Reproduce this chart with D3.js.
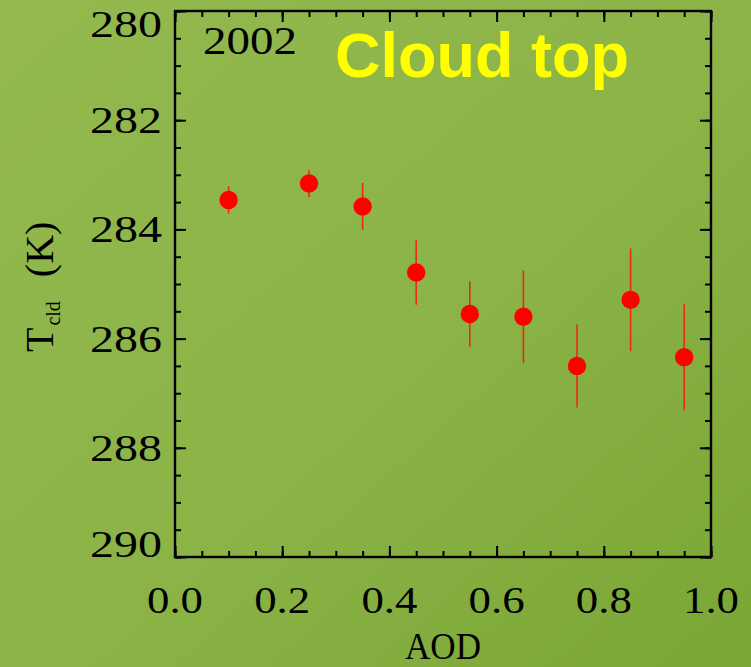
<!DOCTYPE html>
<html>
<head>
<meta charset="utf-8">
<script src="https://cdn.jsdelivr.net/npm/d3@7"></script>
<style>
html,body{margin:0;padding:0;background:#8cb448;}
svg{display:block;}
</style>
</head>
<body>
<svg id="chart" width="751" height="667"></svg>
<script>
// ---- data ----
const aod  = [0.10, 0.25, 0.35, 0.45, 0.55, 0.65, 0.75, 0.85, 0.95];
const tcld = [283.46, 283.16, 283.58, 284.79, 285.55, 285.60, 286.50, 285.29, 286.34];
const terr = [0.25, 0.25, 0.43, 0.59, 0.60, 0.85, 0.76, 0.94, 0.97];
const xTickVals = [0, 0.2, 0.4, 0.6, 0.8, 1.0];
const xTickLabels = ["0.0", "0.2", "0.4", "0.6", "0.8", "1.0"];
const yTickVals = [280, 282, 284, 286, 288, 290];
const yTickLabels = ["280", "282", "284", "286", "288", "290"];
const yearLabel = "2002";
const titleLabel = "Cloud top";
const xTitle = "AOD";

const svg = d3.select("#chart");
const W = 751, H = 667;
const L = 175, R = 711, T = 11, B = 557;

// background gradient
const defs = svg.append("defs");
const g = defs.append("linearGradient").attr("id","bg")
  .attr("x1","0").attr("y1","0").attr("x2","1").attr("y2","1");
g.append("stop").attr("offset","0%").attr("stop-color","#93b94f");
g.append("stop").attr("offset","55%").attr("stop-color","#8bb346");
g.append("stop").attr("offset","100%").attr("stop-color","#79a634");
svg.append("rect").attr("width",W).attr("height",H).attr("fill","url(#bg)");

const x = d3.scaleLinear().domain([0,1]).range([L,R]);
const y = d3.scaleLinear().domain([280,290]).range([T,B]);

const serif = "'Liberation Serif', 'Times New Roman', serif";

// minor + major ticks (inward), on all four sides
const xMinor = d3.range(0, 1.0001, 0.05);
const yMinor = d3.range(280, 290.001, 0.5);
function addAxis(axis, transform){
  const a = svg.append("g").attr("transform",transform).call(axis);
  a.select(".domain").remove();
  a.selectAll("text").remove();
  a.selectAll("line").attr("stroke","#000").attr("stroke-width",2);
}
addAxis(d3.axisBottom(x).tickValues(xMinor).tickSize(-6), `translate(0,${B})`);
addAxis(d3.axisBottom(x).tickValues(xTickVals).tickSize(-11), `translate(0,${B})`);
addAxis(d3.axisTop(x).tickValues(xMinor).tickSize(-6), `translate(0,${T})`);
addAxis(d3.axisTop(x).tickValues(xTickVals).tickSize(-11), `translate(0,${T})`);
addAxis(d3.axisLeft(y).tickValues(yMinor).tickSize(-6), `translate(${L},0)`);
addAxis(d3.axisLeft(y).tickValues(yTickVals).tickSize(-11), `translate(${L},0)`);
addAxis(d3.axisRight(y).tickValues(yMinor).tickSize(-6), `translate(${R},0)`);
addAxis(d3.axisRight(y).tickValues(yTickVals).tickSize(-11), `translate(${R},0)`);

// frame
svg.append("rect").attr("x",L).attr("y",T).attr("width",R-L).attr("height",B-T)
  .attr("fill","none").attr("stroke","#000").attr("stroke-width",2.4);

// tick labels
svg.append("g").selectAll("text").data(xTickVals).join("text")
  .attr("x", d => x(d)).attr("y", 613)
  .attr("text-anchor","middle")
  .attr("font-family", serif).attr("font-size", 38.5)
  .attr("textLength", 56).attr("lengthAdjust","spacingAndGlyphs")
  .attr("fill","#000")
  .text((d,i) => xTickLabels[i]);

svg.append("g").selectAll("text").data(yTickVals).join("text")
  .attr("x", 162)
  .attr("y", (d,i) => i === 0 ? T + 26 : (i === yTickVals.length-1 ? B : y(d) + 13))
  .attr("text-anchor","end")
  .attr("font-family", serif).attr("font-size", 38.5)
  .attr("textLength", 72).attr("lengthAdjust","spacingAndGlyphs")
  .attr("fill","#000")
  .text((d,i) => yTickLabels[i]);

// axis titles
svg.append("text").attr("x", (L+R)/2).attr("y", 659)
  .attr("text-anchor","middle").attr("font-family", serif).attr("font-size", 37)
  .attr("textLength", 76).attr("lengthAdjust","spacingAndGlyphs")
  .attr("fill","#000").text(xTitle);

const yt = svg.append("text")
  .attr("transform", "translate(53,352) rotate(-90)")
  .attr("font-family", serif).attr("fill","#000");
yt.append("tspan").attr("font-size", 40).text("T");
yt.append("tspan").attr("font-size", 20).attr("dy", 7).attr("dx", 2).text("cld");
yt.append("tspan").attr("font-size", 40).attr("dy", -7).attr("dx", 24).text("(K)");

// year + title
svg.append("text").attr("x", 203).attr("y", 54)
  .attr("font-family", serif).attr("font-size", 39)
  .attr("textLength", 94).attr("lengthAdjust","spacingAndGlyphs")
  .attr("fill","#000").text(yearLabel);

svg.append("text").attr("x", 335).attr("y", 77)
  .attr("font-family", "'Liberation Sans', Arial, sans-serif")
  .attr("font-weight","bold").attr("font-size", 63)
  .attr("fill","#ffff00").text(titleLabel);

// error bars
svg.append("g").selectAll("line").data(aod).join("line")
  .attr("x1", d => x(d)).attr("x2", d => x(d))
  .attr("y1", (d,i) => y(tcld[i] - terr[i]))
  .attr("y2", (d,i) => y(tcld[i] + terr[i]))
  .attr("stroke", "#ea2a14").attr("stroke-width", 1.6);

// points
svg.append("g").selectAll("circle").data(aod).join("circle")
  .attr("cx", d => x(d)).attr("cy", (d,i) => y(tcld[i]))
  .attr("r", 9.2).attr("fill", "#ff0000");
</script>
</body>
</html>
